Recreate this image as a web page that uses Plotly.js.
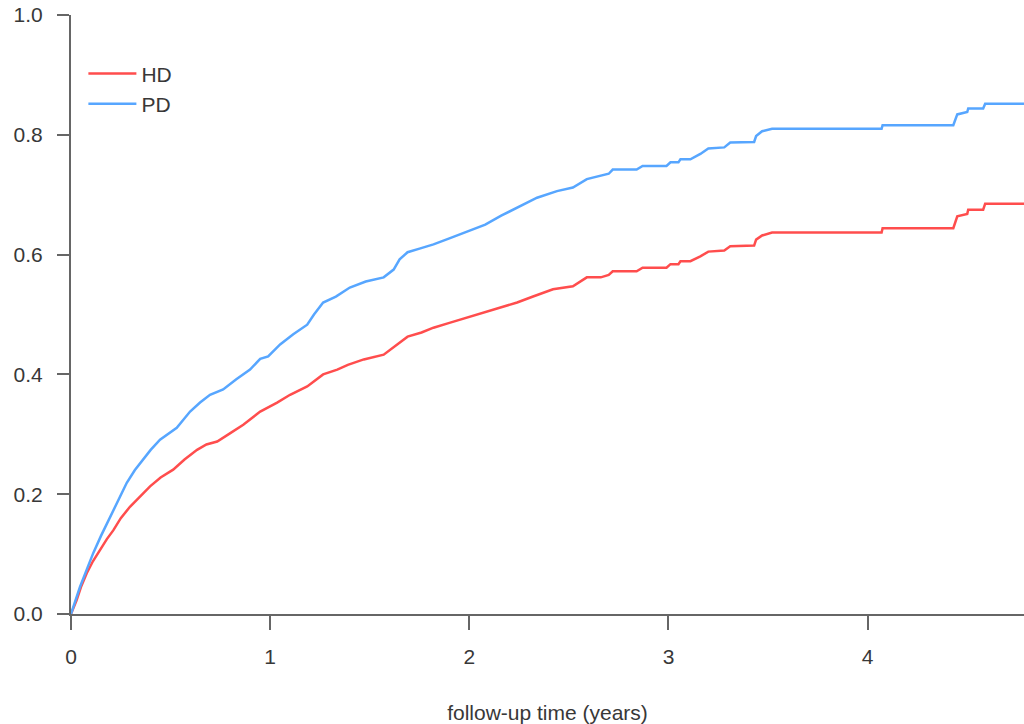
<!DOCTYPE html>
<html>
<head>
<meta charset="utf-8">
<script src="https://cdn.plot.ly/plotly-3.0.1.min.js"></script>
<style>html,body{margin:0;padding:0;background:#fff;}#chart{width:1024px;height:724px;}</style>
</head>
<body>
<div id="chart"></div>
<script>
// Series names
const seriesNames = ["HD", "PD"];

// HD (red) cumulative incidence: time (years) and value
const hdTime = [0, 0.028, 0.05, 0.079, 0.11, 0.146, 0.18, 0.213, 0.25, 0.296, 0.35, 0.397, 0.45, 0.513, 0.57, 0.633, 0.68, 0.734, 0.8, 0.865, 0.95, 1.035, 1.10, 1.186, 1.266, 1.337, 1.39, 1.47, 1.57, 1.63, 1.69, 1.76, 1.82, 1.90, 1.99, 2.08, 2.16, 2.24, 2.32, 2.42, 2.52, 2.59, 2.66, 2.70, 2.72, 2.84, 2.87, 2.99, 3.01, 3.05, 3.06, 3.11, 3.16, 3.20, 3.28, 3.31, 3.43, 3.44, 3.47, 3.52, 4.07, 4.075, 4.43, 4.44, 4.45, 4.50, 4.505, 4.58, 4.59, 4.79];
const hdValue = [0, 0.023, 0.045, 0.068, 0.088, 0.107, 0.125, 0.14, 0.16, 0.179, 0.198, 0.213, 0.228, 0.241, 0.258, 0.274, 0.283, 0.288, 0.302, 0.316, 0.338, 0.353, 0.366, 0.38, 0.40, 0.408, 0.416, 0.425, 0.433, 0.448, 0.463, 0.47, 0.478, 0.486, 0.495, 0.504, 0.512, 0.52, 0.53, 0.542, 0.547, 0.562, 0.562, 0.566, 0.572, 0.572, 0.578, 0.578, 0.584, 0.584, 0.589, 0.589, 0.597, 0.605, 0.607, 0.614, 0.615, 0.625, 0.632, 0.637, 0.637, 0.644, 0.644, 0.656, 0.664, 0.668, 0.675, 0.675, 0.685, 0.685];

// PD (blue) cumulative incidence: time (years) and value
const pdTime = [0, 0.02, 0.045, 0.08, 0.112, 0.15, 0.196, 0.24, 0.28, 0.32, 0.362, 0.40, 0.447, 0.49, 0.531, 0.598, 0.648, 0.698, 0.764, 0.83, 0.899, 0.95, 0.99, 1.05, 1.116, 1.186, 1.22, 1.266, 1.33, 1.40, 1.48, 1.57, 1.62, 1.65, 1.69, 1.75, 1.82, 1.90, 1.99, 2.08, 2.16, 2.256, 2.34, 2.44, 2.52, 2.59, 2.66, 2.70, 2.72, 2.84, 2.87, 2.99, 3.01, 3.05, 3.06, 3.11, 3.16, 3.20, 3.28, 3.31, 3.43, 3.44, 3.47, 3.52, 4.07, 4.075, 4.43, 4.44, 4.45, 4.50, 4.505, 4.58, 4.59, 4.79];
const pdValue = [0, 0.02, 0.045, 0.075, 0.102, 0.13, 0.162, 0.19, 0.219, 0.24, 0.258, 0.274, 0.291, 0.302, 0.311, 0.338, 0.353, 0.366, 0.375, 0.392, 0.408, 0.426, 0.43, 0.45, 0.467, 0.483, 0.50, 0.52, 0.53, 0.545, 0.555, 0.562, 0.575, 0.592, 0.604, 0.61, 0.617, 0.627, 0.639, 0.65, 0.665, 0.681, 0.695, 0.706, 0.712, 0.726, 0.731, 0.735, 0.742, 0.742, 0.748, 0.748, 0.754, 0.754, 0.759, 0.759, 0.768, 0.777, 0.779, 0.787, 0.788, 0.798, 0.806, 0.810, 0.810, 0.816, 0.816, 0.826, 0.834, 0.838, 0.844, 0.844, 0.852, 0.852];

// Axis ticks
const xTicks = [0, 1, 2, 3, 4];
const xTickLabels = ["0", "1", "2", "3", "4"];
const yTicks = [0, 0.2, 0.4, 0.6, 0.8, 1.0];
const yTickLabels = ["0.0", "0.2", "0.4", "0.6", "0.8", "1.0"];
const xTitle = "follow-up time (years)";

const colors = ["#ff4d4d", "#57a6ff"];
const font = {family: "Liberation Sans, Arial, sans-serif", size: 21, color: "#383838"};

const traces = [
  {x: hdTime, y: hdValue, name: seriesNames[0], type: "scatter", mode: "lines",
   line: {color: colors[0], width: 2.5}},
  {x: pdTime, y: pdValue, name: seriesNames[1], type: "scatter", mode: "lines",
   line: {color: colors[1], width: 2.5}}
];

const axisCommon = {
  showgrid: false, zeroline: false, showline: true, linecolor: "#666", linewidth: 2,
  ticks: "outside", tickcolor: "#666", tickwidth: 2, tickfont: font
};

const layout = {
  width: 1024, height: 724,
  margin: {l: 71, r: 0, t: 15, b: 110},
  paper_bgcolor: "#fff", plot_bgcolor: "#fff",
  font: font,
  showlegend: true,
  legend: {x: 0.013, y: 0.936, xanchor: "left", yanchor: "top", font: font,
           bgcolor: "rgba(0,0,0,0)", itemwidth: 48, tracegroupgap: 0},
  xaxis: Object.assign({}, axisCommon, {
    range: [0, 4.785], tickvals: xTicks, ticktext: xTickLabels, ticklen: 14,
    ticklabelstandoff: 9,
    title: {text: xTitle, font: font, standoff: 38}
  }),
  yaxis: Object.assign({}, axisCommon, {
    range: [0, 1], tickvals: yTicks, ticktext: yTickLabels, ticklen: 12,
    ticklabelstandoff: 10
  })
};

Plotly.newPlot("chart", traces, layout, {displayModeBar: false, staticPlot: true});
</script>
</body>
</html>
